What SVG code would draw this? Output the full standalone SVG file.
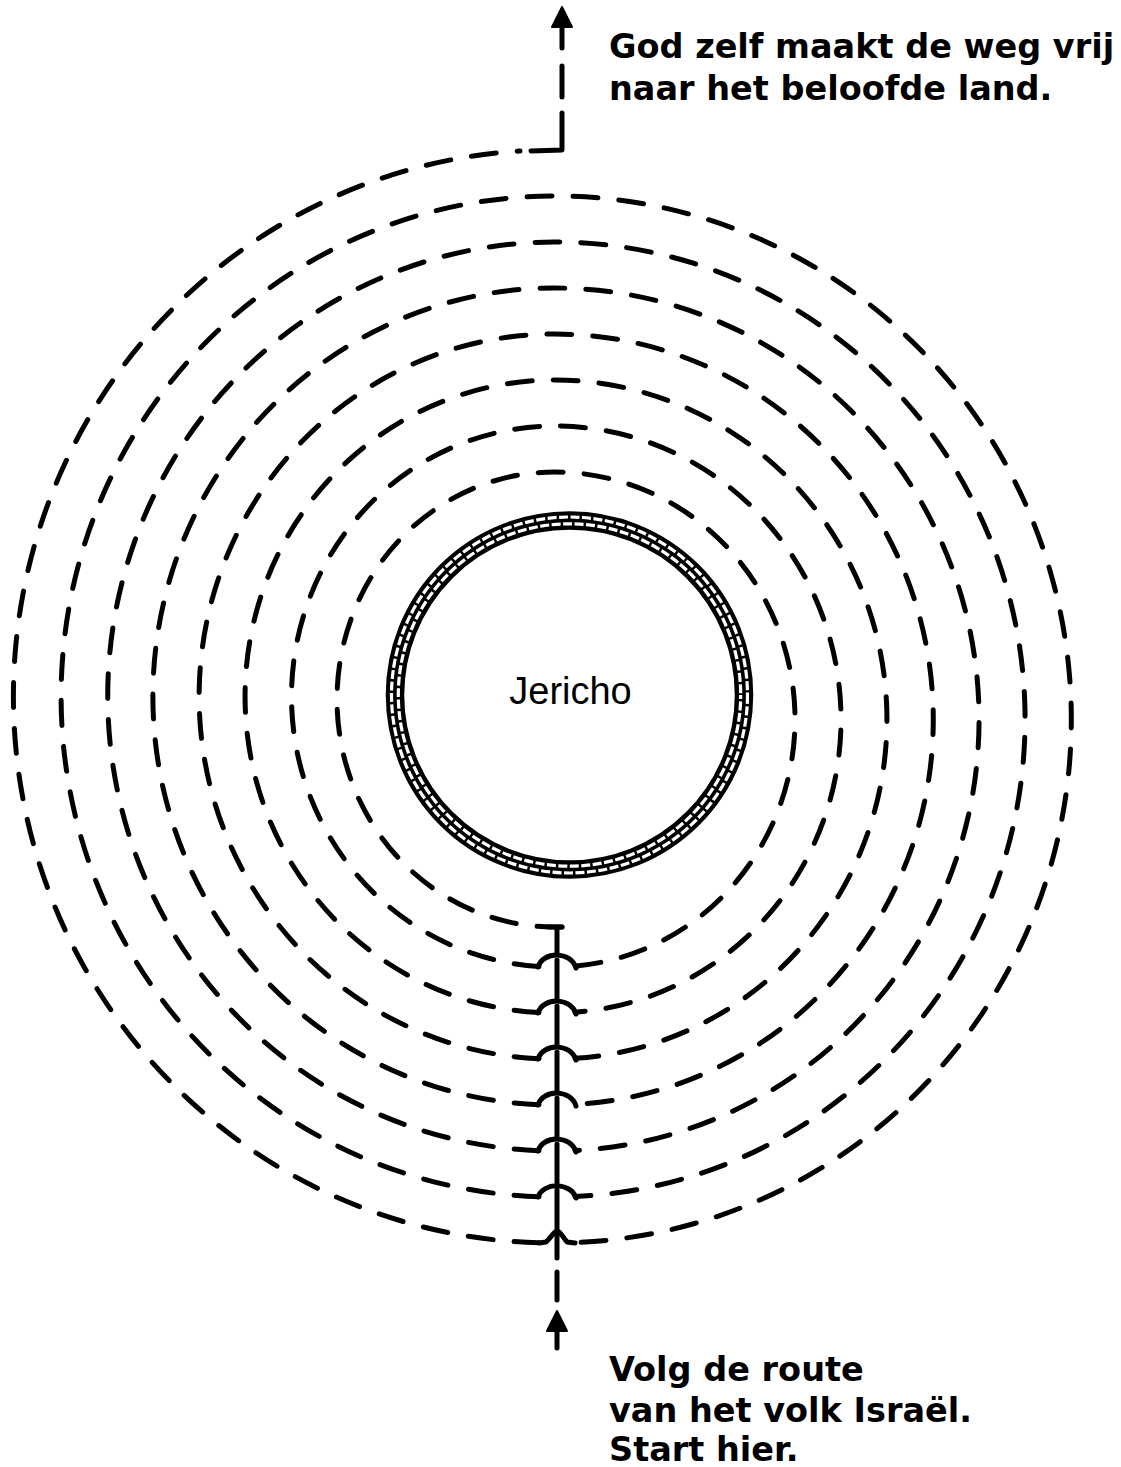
<svg xmlns="http://www.w3.org/2000/svg" width="1121" height="1467" viewBox="0 0 1121 1467">
<style>
.route{fill:none;stroke:#000;stroke-width:5;stroke-linecap:round;stroke-linejoin:round}
.dash{stroke-dasharray:25 21}
.head{fill:#000;stroke:#000;stroke-width:2;stroke-linejoin:round}
.lbl{font-family:"DejaVu Sans","Verdana",sans-serif;font-weight:bold;font-size:33.5px;fill:#000}
.city{font-family:"Liberation Sans",Arial,sans-serif;font-size:38px;fill:#000}
</style>
<rect width="1121" height="1467" fill="#fff"/>
<g id="jericho">
  <circle cx="569.5" cy="695" r="174.5" fill="none" stroke="#000" stroke-width="18.5"/>
  <circle cx="569.5" cy="695" r="178" fill="none" stroke="#fff" stroke-width="3.2" stroke-dasharray="9 2.5"/>
  <circle cx="569.5" cy="695" r="171.2" fill="none" stroke="#fff" stroke-width="3.2" stroke-dasharray="9 2.5" stroke-dashoffset="5"/>
  <text class="city" x="570.5" y="704" text-anchor="middle">Jericho</text>
</g>
<g id="connectors">
  <path class="route dash" d="M 562 927 L 554.5 927 A 217.5 227.5 0 0 1 554.5 472 A 240.5 247.5 0 0 1 575 966.1
    M 539 966.5 A 263.5 270.5 0 0 1 554.5 426 A 286.5 293.5 0 0 1 575 1012.25
    M 539 1012.6 A 309.5 316.5 0 0 1 554.5 380 A 332.5 339.5 0 0 1 575 1058.35
    M 539 1058.65 A 355.5 362.5 0 0 1 554.5 334 A 378.5 385.5 0 0 1 575 1104.45
    M 539 1104.7 A 401.5 408.5 0 0 1 554.5 288 A 424.5 431.5 0 0 1 575 1150.5
    M 539 1150.7 A 447.5 454.5 0 0 1 554.5 242 A 470.5 477.5 0 0 1 575 1196.55
    M 539 1196.75 A 493.5 500.5 0 0 1 554.5 196 A 516.5 523.5 0 0 1 575 1242.6
    M 539 1242.8 A 539.5 546.5 0 0 1 520 151"/>
  <g id="hops">
    <path class="route" d="M 576 968 C 571 951 543 951 538 967"/>
    <path class="route" d="M 576 1014 C 571 997 543 997 538 1013"/>
    <path class="route" d="M 576 1060 C 571 1043 543 1043 538 1059"/>
    <path class="route" d="M 576 1106 C 571 1089 543 1089 538 1105"/>
    <path class="route" d="M 576 1152 C 571 1135 543 1135 538 1151"/>
    <path class="route" d="M 576 1198 C 571 1182 543 1182 538 1197"/>
    <path class="route" d="M 575 1243 L 567 1242 C 562 1236 560 1231 557 1231 C 554 1231 551 1238 546 1242 L 539 1243"/>
  </g>
  <g id="entry">
    <path class="route" d="M 548 927 L 562 927 M 557 927 L 557 953 M 557 960 L 557 999 M 557 1006 L 557 1045 M 557 1052 L 557 1091 M 557 1098 L 557 1137 M 557 1144 L 557 1183 M 557 1190 L 557 1229 M 557 1235 L 557 1258 M 557 1272 L 557 1300 M 557 1348 L 557 1328"/>
    <polygon class="head" points="557,1311 547,1331 567,1331"/>
  </g>
  <g id="exit">
    <path class="route" d="M 531 151 L 562 150 L 562 113 M 562 97 L 562 66 M 562 48 L 562 24"/>
    <polygon class="head" points="562,7 552,27 572,27"/>
  </g>
</g>
<g id="end-label">
  <text class="lbl" x="609" y="58">God zelf maakt de weg vrij</text>
  <text class="lbl" x="609" y="100">naar het beloofde land.</text>
</g>
<g id="start-label">
  <text class="lbl" x="609" y="1381">Volg de route</text>
  <text class="lbl" x="609" y="1422">van het volk Israël.</text>
  <text class="lbl" x="609" y="1461">Start hier.</text>
</g>
</svg>
